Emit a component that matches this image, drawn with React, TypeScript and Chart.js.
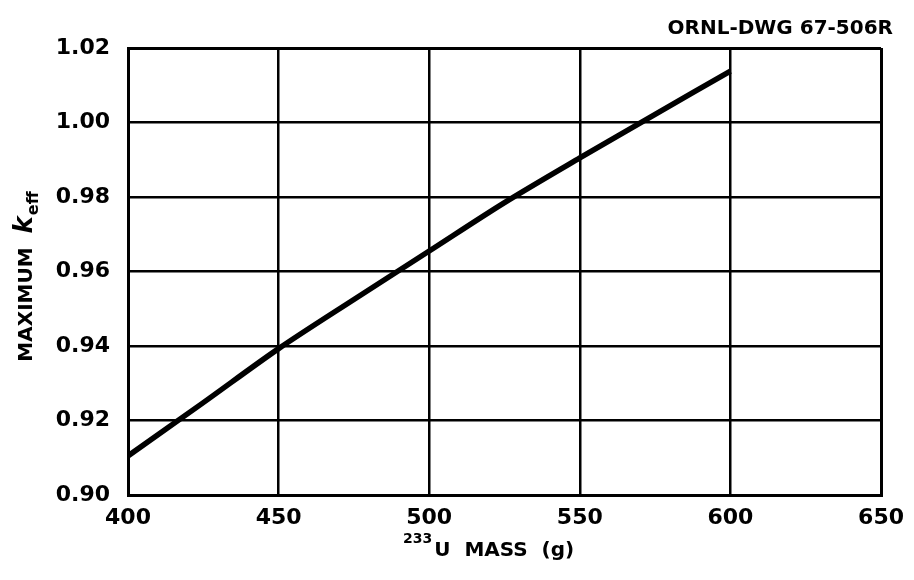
import React, { useEffect, useRef } from "react";
import { Chart, registerables } from "chart.js";

Chart.register(...registerables);

const massValues = [400, 425, 450, 475, 500, 525, 550, 575, 600];
const keffValues = [0.9105, 0.9248, 0.9393, 0.9525, 0.9655, 0.9785, 0.9905, 1.0022, 1.0138];
const xTickMin = 400;
const xTickMax = 650;
const xTickStep = 50;
const yTickMin = 0.9;
const yTickMax = 1.02;
const yTickStep = 0.02;
const headerText = "ORNL-DWG 67-506R";

const FONT = "'DejaVu Sans', sans-serif";

const annotations = {
  id: "annotations",
  afterDraw(chart: any) {
    const ctx = chart.ctx;
    ctx.save();
    ctx.fillStyle = "#000";
    // header
    ctx.font = `bold 20px ${FONT}`;
    ctx.textAlign = "right";
    ctx.textBaseline = "alphabetic";
    ctx.fillText(headerText, 893, 34);

    // x axis title with superscript
    ctx.textAlign = "left";
    ctx.font = `bold 14px ${FONT}`;
    const sup = "233";
    const wSup = ctx.measureText(sup).width;
    const startX = 403;
    ctx.fillText(sup, startX, 543);
    ctx.font = `bold 20px ${FONT}`;
    ctx.fillText("U  MASS  (g)", startX + wSup + 2, 556);

    // y axis title rotated
    ctx.translate(32, 277);
    ctx.rotate(-Math.PI / 2);
    ctx.font = `bold 20px ${FONT}`;
    const t1 = "MAXIMUM  ";
    const w1 = ctx.measureText(t1).width;
    ctx.font = `italic bold 26px ${FONT}`;
    const t2 = "k";
    const w2 = ctx.measureText(t2).width;
    ctx.font = `bold 16px ${FONT}`;
    const t3 = "eff";
    const w3 = ctx.measureText(t3).width;
    const total = w1 + w2 + w3;
    let x = -total / 2;
    ctx.font = `bold 20px ${FONT}`;
    ctx.fillText(t1, x, 0);
    x += w1;
    ctx.font = `italic bold 26px ${FONT}`;
    ctx.fillText(t2, x, 0);
    x += w2 + 1;
    ctx.font = `bold 16px ${FONT}`;
    ctx.fillText(t3, x, 6);
    ctx.restore();
  },
};

export default function App() {
  const ref = useRef<HTMLCanvasElement>(null);
  useEffect(() => {
    document.body.style.margin = "0";
    const canvas = ref.current!;
    const chart = new Chart(canvas, {
      type: "line",
      data: {
        datasets: [
          {
            data: massValues.map((m, i) => ({ x: m, y: keffValues[i] })),
            borderColor: "#000",
            borderWidth: 5.5,
            pointRadius: 0,
            tension: 0.3,
            fill: false,
          },
        ],
      },
      options: {
        animation: false,
        responsive: false,
        maintainAspectRatio: false,
        layout: { padding: { left: 0, right: 32, top: 48, bottom: 0 } },
        plugins: { legend: { display: false }, tooltip: { enabled: false }, title: { display: false } },
        scales: {
          x: {
            type: "linear",
            min: xTickMin,
            max: xTickMax,
            ticks: {
              stepSize: xTickStep,
              color: "#000",
              font: { family: FONT, size: 22, weight: "bold" },
              padding: 10,
              maxRotation: 0,
            },
            grid: {
              color: "#000",
              lineWidth: (c: any) => (c.tick && (c.tick.value === xTickMin || c.tick.value === xTickMax) ? 3 : 2.5),
              drawTicks: false,
            },
            border: { display: true, color: "#000", width: 3 },
            afterFit: (s: any) => {
              s.height = 85;
            },
          },
          y: {
            type: "linear",
            min: yTickMin,
            max: yTickMax,
            ticks: {
              stepSize: yTickStep,
              color: "#000",
              font: { family: FONT, size: 22, weight: "bold" },
              padding: 18,
              callback: (v: any) => Number(v).toFixed(2),
            },
            grid: {
              color: "#000",
              lineWidth: (c: any) =>
                c.tick && (Math.abs(c.tick.value - yTickMin) < 1e-6 || Math.abs(c.tick.value - yTickMax) < 1e-6) ? 3 : 2.5,
              drawTicks: false,
            },
            border: { display: true, color: "#000", width: 3 },
            afterFit: (s: any) => {
              s.width = 128;
            },
          },
        },
      },
      plugins: [annotations],
    });
    return () => chart.destroy();
  }, []);
  return <canvas ref={ref} width={914} height={580} style={{ display: "block" }} />;
}
